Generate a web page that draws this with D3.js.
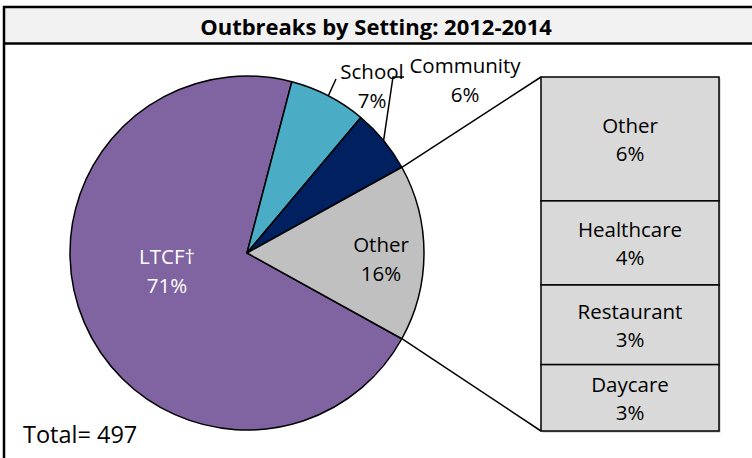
<!DOCTYPE html>
<html>
<head>
<meta charset="utf-8">
<script src="https://cdn.jsdelivr.net/npm/d3@7"></script>
<style>
  body { margin: 0; background: #fff; }
  text { font-family: "Open Sans", "Noto Sans", sans-serif; }
</style>
</head>
<body>
<script>
// pie data (outbreak counts, total 497)
var pieLabels = ["LTCF\u2020", "School", "Community", "Other"];
var pieValues = [353, 35, 29, 80];
var pieColors = ["#8064A2", "#4BACC6", "#002060", "#C0C0C0"];

// breakdown of "Other"
var barLabels = ["Other", "Healthcare", "Restaurant", "Daycare"];
var barValues = [28, 19, 18, 15];
var barPctText = ["6%", "4%", "3%", "3%"];

var svgWidth = 752;
var svgHeight = 458;
var fontSize = 20.5;

var svg = d3.select("body")
    .append("svg")
    .attr("width", svgWidth)
    .attr("height", svgHeight);

// outer frame + title band
svg.append("rect")
    .attr("x", 4).attr("y", 7)
    .attr("width", 800).attr("height", 36)
    .attr("fill", "#F2F2F2");
svg.append("rect")
    .attr("x", 4).attr("y", 7)
    .attr("width", 800).attr("height", 500)
    .attr("fill", "none")
    .attr("stroke", "#000")
    .attr("stroke-width", 2.5);
svg.append("line")
    .attr("x1", 4).attr("x2", 800)
    .attr("y1", 43.5).attr("y2", 43.5)
    .attr("stroke", "#000")
    .attr("stroke-width", 2.5);

svg.append("text")
    .attr("x", 376).attr("y", 35)
    .attr("text-anchor", "middle")
    .attr("font-size", 22)
    .attr("font-weight", "bold")
    .text("Outbreaks by Setting: 2012-2014");

var total = d3.sum(pieValues);
var otherShare = pieValues[3] / total;

var cx = 247, cy = 253, radius = 177;

// rotate so the "Other" slice is centred on the right-hand side
var startAngle = Math.PI / 2 + otherShare * Math.PI;

var pie = d3.pie()
    .sort(null)
    .startAngle(startAngle)
    .endAngle(startAngle + 2 * Math.PI);

var arcs = pie(pieValues);

var arc = d3.arc()
    .innerRadius(0)
    .outerRadius(radius);

var pieGroup = svg.append("g")
    .attr("transform", `translate(${cx},${cy})`);

pieGroup.selectAll("path")
    .data(arcs)
    .enter()
    .append("path")
    .attr("d", arc)
    .attr("fill", (d, i) => pieColors[i])
    .attr("stroke", "#000")
    .attr("stroke-width", 1.5)
    .attr("stroke-linejoin", "round");

function pct(v) {
    return Math.round(v / total * 100) + "%";
}

function polar(angle, r) {
    return [r * Math.sin(angle), -r * Math.cos(angle)];
}

// labels inside the big slices
var insideLabels = [
    { i: 0, pos: [-80, 11], fill: "#fff" },
    { i: 3, pos: [134, -1], fill: "#000" }
];

insideLabels.forEach(l => {
    var t = pieGroup.append("text")
        .attr("text-anchor", "middle")
        .attr("font-size", fontSize)
        .attr("fill", l.fill);
    t.append("tspan").attr("x", l.pos[0]).attr("y", l.pos[1]).text(pieLabels[l.i]);
    t.append("tspan").attr("x", l.pos[0]).attr("y", l.pos[1] + 28.5).text(pct(pieValues[l.i]));
});

// outside labels with leader lines
var outsideLabels = [
    { i: 1, text: [125, -174], lead: [89, -174], tail: 0 },
    { i: 2, text: [218, -180], lead: [146, -176], tail: 11 }
];

outsideLabels.forEach(l => {
    var a = arcs[l.i];
    var p0 = polar((a.startAngle + a.endAngle) / 2, radius);
    var pts = [p0, l.lead];
    if (l.tail) pts.push([l.lead[0] + l.tail, l.lead[1]]);
    pieGroup.append("path")
        .attr("d", d3.line()(pts))
        .attr("fill", "none")
        .attr("stroke", "#000")
        .attr("stroke-width", 1.5);
    var t = pieGroup.append("text")
        .attr("text-anchor", "middle")
        .attr("font-size", fontSize)
        .attr("fill", "#000");
    t.append("tspan").attr("x", l.text[0]).attr("y", l.text[1]).text(pieLabels[l.i]);
    t.append("tspan").attr("x", l.text[0]).attr("y", l.text[1] + 28.5).text(pct(pieValues[l.i]));
});

// stacked bar of "Other"
var barX = 541, barW = 178, barTop = 77, barBottom = 431;

var yScale = d3.scaleLinear()
    .domain([0, d3.sum(barValues)])
    .range([barTop, barBottom]);

var cum = d3.cumsum(barValues);
var barData = barValues.map((v, i) => ({ label: barLabels[i], pctText: barPctText[i], y0: cum[i] - v, y1: cum[i] }));

// connector lines from the "Other" slice to the bar
var oa = arcs[3];
var pTop = polar(oa.startAngle, radius);
var pBot = polar(oa.endAngle, radius);
svg.append("line")
    .attr("x1", cx + pTop[0]).attr("y1", cy + pTop[1])
    .attr("x2", barX).attr("y2", yScale(0))
    .attr("stroke", "#000").attr("stroke-width", 1.5);
svg.append("line")
    .attr("x1", cx + pBot[0]).attr("y1", cy + pBot[1])
    .attr("x2", barX).attr("y2", yScale(d3.sum(barValues)))
    .attr("stroke", "#000").attr("stroke-width", 1.5);

var barGroup = svg.append("g");

// faint shadow on the right
barGroup.append("rect")
    .attr("x", barX + 1.5).attr("y", yScale(0) + 1.5)
    .attr("width", barW).attr("height", yScale(d3.sum(barValues)) - yScale(0))
    .attr("fill", "#bbb");

barGroup.selectAll("rect.seg")
    .data(barData)
    .enter()
    .append("rect")
    .classed("seg", true)
    .attr("x", barX)
    .attr("y", d => yScale(d.y0))
    .attr("width", barW)
    .attr("height", d => yScale(d.y1) - yScale(d.y0))
    .attr("fill", "#D9D9D9")
    .attr("stroke", "#000")
    .attr("stroke-width", 1.5);

var segText = barGroup.selectAll("text.seg")
    .data(barData)
    .enter()
    .append("text")
    .classed("seg", true)
    .attr("text-anchor", "middle")
    .attr("font-size", fontSize);

segText.append("tspan")
    .attr("x", barX + barW / 2)
    .attr("y", d => (yScale(d.y0) + yScale(d.y1)) / 2 - 6)
    .text(d => d.label);
segText.append("tspan")
    .attr("x", barX + barW / 2)
    .attr("y", d => (yScale(d.y0) + yScale(d.y1)) / 2 + 22.5)
    .text(d => d.pctText);

svg.append("text")
    .attr("x", 23).attr("y", 443)
    .attr("font-size", 23.5)
    .text("Total= " + total);
</script>
</body>
</html>
